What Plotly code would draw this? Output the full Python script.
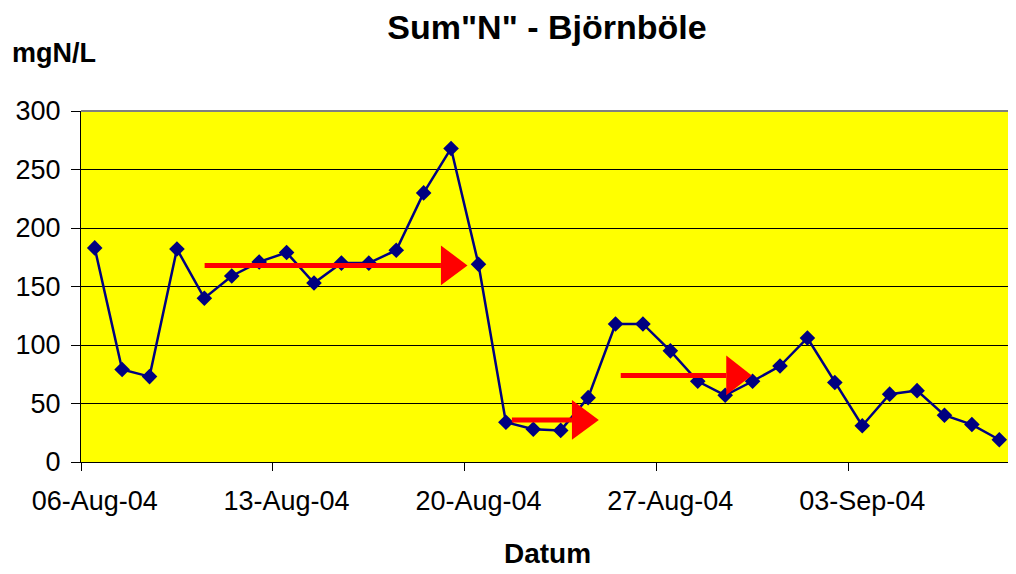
import pandas as pd
import plotly.graph_objects as go

# ---- data ----
dates = pd.date_range("2004-08-06", "2004-09-08", freq="D").strftime("%Y-%m-%d").tolist()
values = [183, 79, 73, 182, 140, 159, 171, 179, 153, 170, 170, 181, 230, 268, 169,
          34, 28, 27, 55, 118, 118, 95, 69, 57, 69, 82, 106, 68, 31, 58, 61, 40, 32, 19]

# arrows: tail (days from start), head base (days), tip (days), level (mgN/L)
arrow_tail = [4.51, 15.72, 19.69]
arrow_base = [13.13, 17.91, 23.54]
arrow_tip = [14.10, 18.89, 24.47]
arrow_level = [168, 36, 74]

title_text = 'Sum"N" - Björnböle'
y_label = "mgN/L"
x_label = "Datum"
tick_dates = ["2004-08-06", "2004-08-13", "2004-08-20", "2004-08-27", "2004-09-03"]

start = pd.Timestamp("2004-08-06")
end = start + pd.Timedelta(days=34)
half_day = pd.Timedelta(hours=12)
xs = [pd.Timestamp(d) + half_day for d in dates]
label_pos = [pd.Timestamp(d) + half_day for d in tick_dates]

FONT = "Liberation Sans, Arial, sans-serif"

fig = go.Figure()
fig.add_trace(go.Scatter(
    x=xs, y=values, mode="lines+markers",
    line=dict(color="#000080", width=2.5),
    marker=dict(symbol="diamond", size=12, color="#000080"),
    showlegend=False, hoverinfo="x+y",
))

HALF = 17  # half height of arrow head in data units
for t, b, p, lv in zip(arrow_tail, arrow_base, arrow_tip, arrow_level):
    tx = start + pd.Timedelta(days=t)
    bx = start + pd.Timedelta(days=b)
    px = start + pd.Timedelta(days=p)
    fig.add_trace(go.Scatter(
        x=[tx, bx], y=[lv, lv], mode="lines",
        line=dict(color="#FF0000", width=5),
        showlegend=False, hoverinfo="skip",
    ))
    fig.add_trace(go.Scatter(
        x=[bx, px, bx, bx], y=[lv + HALF, lv, lv - HALF, lv + HALF],
        mode="lines", fill="toself", fillcolor="#FF0000",
        line=dict(color="#FF0000", width=0),
        showlegend=False, hoverinfo="skip",
    ))

# page body has an 8px margin; figure sized so the plot lands where the reference has it
W, H = 1008, 566
fig.update_layout(
    width=W, height=H,
    margin=dict(l=73, r=3, t=103, b=112),
    paper_bgcolor="white", plot_bgcolor="#FFFF00",
    font=dict(family=FONT, color="black", size=27),
    title=dict(text="<b>" + title_text + "</b>", x=(547 - 8) / W, xanchor="center",
               y=1 - (27 - 8) / H, yanchor="middle", font=dict(size=34)),
    showlegend=False,
    # tick marks at day boundaries (no labels)
    xaxis=dict(
        type="date", range=[start, end],
        tickvals=tick_dates, showticklabels=False,
        ticks="outside", ticklen=8, tickcolor="black", tickwidth=1,
        showline=True, linecolor="black", linewidth=1,
        showgrid=False, zeroline=False,
    ),
    # labels centred on the day (Excel date-axis style)
    xaxis2=dict(
        type="date", range=[start, end], overlaying="x", side="bottom",
        anchor="y",
        tickvals=label_pos, tickformat="%d-%b-%y",
        ticks="", showline=False, showgrid=False, zeroline=False,
        tickfont=dict(size=27), ticklabelstandoff=20,
    ),
)

# dummy trace to activate the label axis
fig.add_trace(go.Scatter(x=[start, end], y=[None, None], xaxis="x2",
                         mode="markers", showlegend=False, hoverinfo="skip"))

fig.update_yaxes(
    range=[0, 300], dtick=50,
    ticks="outside", ticklen=9, tickcolor="black", tickwidth=1,
    showline=True, linecolor="black", linewidth=1,
    showgrid=True, gridcolor="black", gridwidth=1,
    zeroline=False, tickfont=dict(size=27),
    ticklabelstandoff=5,
)

# frame (gray top and right)
fig.add_shape(type="line", xref="paper", yref="paper", x0=0, x1=1, y0=1, y1=1,
              line=dict(color="#808080", width=2))
fig.add_shape(type="line", xref="paper", yref="paper", x0=1, x1=1, y0=0, y1=1,
              line=dict(color="#808080", width=2))

fig.add_annotation(text="<b>" + y_label + "</b>", xref="paper", yref="paper",
                   x=(10 - 81) / 932, y=(462 - 53) / 351, xanchor="left", yanchor="middle",
                   showarrow=False, font=dict(size=27))
fig.add_annotation(text="<b>" + x_label + "</b>", xref="paper", yref="paper",
                   x=(547 - 81) / 932, y=(462 - 553) / 351, xanchor="center", yanchor="middle",
                   showarrow=False, font=dict(size=28))

fig.write_html("out.html")
